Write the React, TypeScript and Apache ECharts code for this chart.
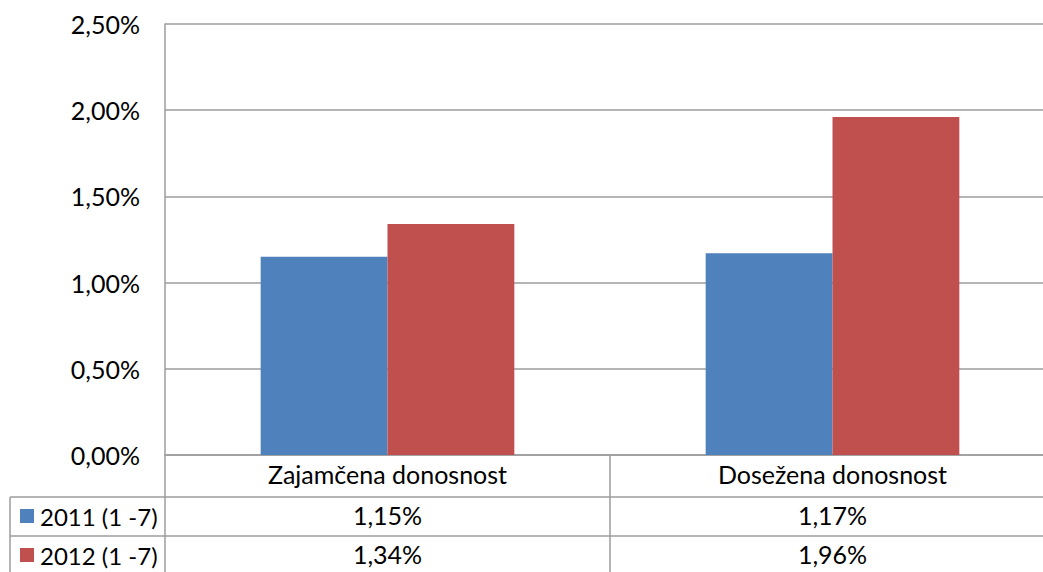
import React, { useEffect, useRef } from "react";
import * as echarts from "echarts";

const categories = ["Zajamčena donosnost", "Dosežena donosnost"];
const seriesNames = ["2011 (1 -7)", "2012 (1 -7)"];
const values2011 = [1.15, 1.17];
const values2012 = [1.34, 1.96];
const colors = ["#4F81BD", "#C0504D"];
const yTicks = { min: 0, max: 2.5, interval: 0.5 };

const fmt = (v: number) => v.toFixed(2).replace(".", ",") + "%";
const FONT = "Lato";
const FS = 25;
const GRID = "#9c9c9c";

export default function App() {
  const ref = useRef<HTMLDivElement>(null);
  useEffect(() => {
    if (!ref.current) return;
    const chart = echarts.init(ref.current, null, { renderer: "svg" });
    const hiddenAxis = (data: string[], offset: number) => ({
      type: "category",
      data,
      position: "bottom",
      offset,
      axisLine: { show: false },
      axisTick: { show: false },
      axisLabel: { color: "#000", fontSize: FS, fontFamily: FONT, margin: 6 },
      splitLine: { show: false },
    });
    const legendBase = (name: string, top: number) => ({
      orient: "vertical",
      left: 20,
      top,
      padding: 0,
      itemWidth: 14,
      itemHeight: 14,
      itemGap: 0,
      icon: "rect",
      selectedMode: false,
      data: [name],
      textStyle: { color: "#000", fontSize: 24, fontFamily: FONT, padding: [0, 0, 16, 1] },
    });
    chart.setOption({
      animation: false,
      textStyle: { fontFamily: FONT },
      grid: { left: 165, top: 24, width: 890, height: 431, containLabel: false },
      legend: [legendBase(seriesNames[0], 504), legendBase(seriesNames[1], 543)],
      xAxis: [
        {
          type: "category",
          data: categories,
          axisLine: { show: true, lineStyle: { color: GRID, width: 1.5 } },
          axisTick: { show: true, inside: false, length: 117, lineStyle: { color: GRID, width: 1.5 } },
          axisLabel: { color: "#000", fontSize: FS, fontFamily: FONT, margin: 6 },
          splitLine: { show: false },
        },
        hiddenAxis(values2011.map(fmt), 41),
        hiddenAxis(values2012.map(fmt), 80),
      ],
      yAxis: {
        type: "value",
        min: yTicks.min,
        max: yTicks.max,
        interval: yTicks.interval,
        axisLine: { show: true, lineStyle: { color: GRID, width: 1.5 } },
        axisTick: { show: false },
        axisLabel: { color: "#000", fontSize: FS, fontFamily: FONT, margin: 25, formatter: (v: number) => fmt(v) },
        splitLine: { show: true, lineStyle: { color: GRID, width: 1.5 } },
      },
      series: [
        {
          name: seriesNames[0],
          type: "bar",
          data: values2011,
          itemStyle: { color: colors[0] },
          barGap: "0%",
          barCategoryGap: "43%",
        },
        {
          name: seriesNames[1],
          type: "bar",
          data: values2012,
          itemStyle: { color: colors[1] },
          barGap: "0%",
          barCategoryGap: "43%",
        },
      ],
      graphic: [
        { type: "line", shape: { x1: 10, y1: 497, x2: 1070, y2: 497 }, style: { stroke: GRID, lineWidth: 1.5 } },
        { type: "line", shape: { x1: 10, y1: 536, x2: 1070, y2: 536 }, style: { stroke: GRID, lineWidth: 1.5 } },
        { type: "line", shape: { x1: 10, y1: 497, x2: 10, y2: 580 }, style: { stroke: GRID, lineWidth: 1.5 } },
      ],
    });
    return () => chart.dispose();
  }, []);
  return (
    <div style={{ position: "fixed", left: 0, top: 0, width: 1043, height: 572, overflow: "hidden", background: "#fff" }}>
      <div ref={ref} style={{ width: 1070, height: 572 }} />
    </div>
  );
}
